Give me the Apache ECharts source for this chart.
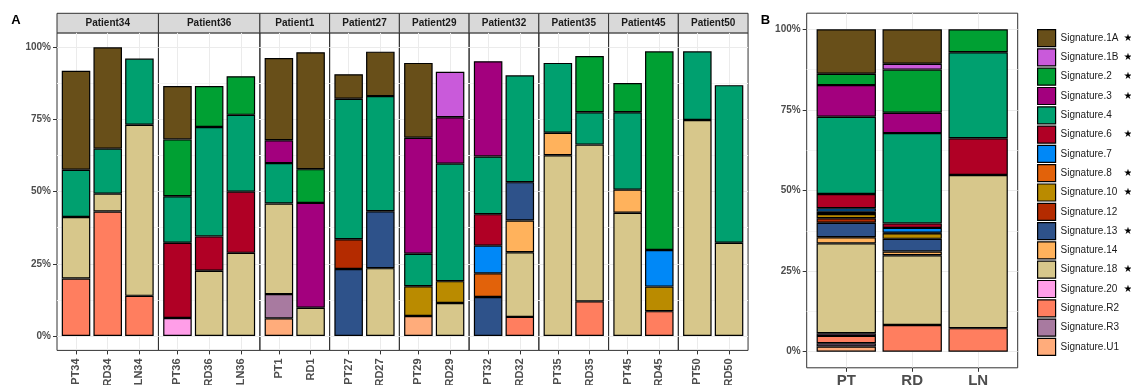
<!DOCTYPE html>
<html>
<head>
<meta charset="utf-8">
<script src="https://cdn.jsdelivr.net/npm/echarts@6/dist/echarts.min.js"></script>
<style>
  html, body { margin: 0; padding: 0; background: #fff; }
  #chart { width: 1131px; height: 385px; }
</style>
</head>
<body>
<div id="chart"></div>
<script>
// ---- data ----------------------------------------------------------------
const signatures = [
  'Signature.1A', 'Signature.1B', 'Signature.2', 'Signature.3', 'Signature.4',
  'Signature.6', 'Signature.7', 'Signature.8', 'Signature.10', 'Signature.12',
  'Signature.13', 'Signature.14', 'Signature.18', 'Signature.20', 'Signature.R2',
  'Signature.R3', 'Signature.U1'
];
const sigColors = [
  '#684F19', '#C95ADA', '#00A033', '#A3007E', '#00A06F',
  '#B00025', '#0088F7', '#E2620A', '#BA8B00', '#B42B00',
  '#2E528A', '#FFB25C', '#D7C78B', '#FF9EE8', '#FF7E5F',
  '#A87AA0', '#FFAC7B'
];
const sigStarred = [
  true, true, true, true, false,
  true, false, true, true, false,
  true, false, true, true, false,
  false, false
];

const patients = ['Patient34', 'Patient36', 'Patient1', 'Patient27', 'Patient29',
                  'Patient32', 'Patient35', 'Patient45', 'Patient50'];
const patientSampleCounts = [3, 3, 2, 2, 2, 2, 2, 2, 2];
const samplesA = ['PT34', 'RD34', 'LN34', 'PT36', 'RD36', 'LN36', 'PT1', 'RD1',
                  'PT27', 'RD27', 'PT29', 'RD29', 'PT32', 'RD32', 'PT35', 'RD35',
                  'PT45', 'RD45', 'PT50', 'RD50'];

// contribution (%) of each signature per sample, same order as samplesA
const contribA = [
  /* 1A  */ [34.3, 35.1, null, 18.5, null, null, 28.5, 40.5, 8.5, 15.4, 25.9, null, null, null, null, null, null, null, null, null],
  /* 1B  */ [null, null, null, null, null, null, null, null, null, null, null, 15.7, null, null, null, null, null, null, null, null],
  /* 2   */ [null, null, null, 19.7, 14.2, 13.4, null, 11.7, null, null, null, null, null, null, null, 19.5, 10.1, 68.8, null, null],
  /* 3   */ [null, null, null, null, null, null, 7.9, 36.3, null, null, 40.2, 16.1, 33.0, null, null, null, null, null, null, null],
  /* 4   */ [16.4, 15.6, 22.9, 16.1, 37.9, 26.6, 14.0, null, 48.7, 39.9, 11.3, 40.7, 20.0, 37.0, 24.2, 11.2, 26.8, null, 23.8, 54.6],
  /* 6   */ [null, null, null, 26.1, 11.9, 21.2, null, null, null, null, null, null, 10.9, null, null, null, null, null, null, null],
  /* 7   */ [null, null, null, null, null, null, null, null, null, null, null, null, 9.6, null, null, null, null, 12.7, null, null],
  /* 8   */ [null, null, null, null, null, null, null, null, null, null, null, null, 8.2, null, null, null, null, null, null, null],
  /* 10  */ [null, null, null, null, null, null, null, null, null, null, 10.3, 7.6, null, null, null, null, null, 8.5, null, null],
  /* 12  */ [null, null, null, null, null, null, null, null, 10.3, null, null, null, null, null, null, null, null, null, null, null],
  /* 13  */ [null, null, null, null, null, null, null, null, 23.2, 19.7, null, null, 13.5, 13.3, null, null, null, null, null, null],
  /* 14  */ [null, null, null, null, null, null, null, null, null, null, null, null, null, 11.0, 7.8, null, 8.0, null, null, null],
  /* 18  */ [21.3, 6.2, 59.3, null, 22.6, 28.8, 31.4, 9.8, null, 23.5, null, 11.4, null, 22.4, 62.6, 54.3, 42.7, null, 74.8, 32.3],
  /* 20  */ [null, null, null, 6.2, null, null, null, null, null, null, null, null, null, null, null, null, null, null, null, null],
  /* R2  */ [19.9, 43.1, 13.9, null, null, null, null, null, null, null, null, null, null, 6.6, null, 12.0, null, 8.6, null, null],
  /* R3  */ [null, null, null, null, null, null, 8.4, null, null, null, null, null, null, null, null, null, null, null, null, null],
  /* U1  */ [null, null, null, null, null, null, 6.1, null, null, null, 6.9, null, null, null, null, null, null, null, null, null]
];

const groupsB = ['PT', 'RD', 'LN'];
// pooled contribution (%) per tissue group: PT, RD, LN
const contribB = [
  /* 1A  */ [13.8, 10.7, null],
  /* 1B  */ [null, 1.8, null],
  /* 2   */ [3.5, 13.4, 7.1],
  /* 3   */ [9.8, 6.3, null],
  /* 4   */ [24.0, 28.0, 26.7],
  /* 6   */ [4.4, 1.4, 11.4],
  /* 7   */ [1.1, 1.5, null],
  /* 8   */ [0.7, 0.2, null],
  /* 10  */ [1.3, 1.7, null],
  /* 12  */ [1.4, null, null],
  /* 13  */ [4.5, 3.9, null],
  /* 14  */ [1.9, 1.2, null],
  /* 18  */ [27.9, 21.6, 47.5],
  /* 20  */ [0.8, null, null],
  /* R2  */ [2.3, 8.3, 7.3],
  /* R3  */ [1.0, null, null],
  /* U1  */ [1.6, null, null]
];

const yTicks = [0, 25, 50, 75, 100];
const yMinorTicks = [12.5, 37.5, 62.5, 87.5];

// ---- layout / styling ------------------------------------------------------
const FONT = '"Liberation Sans", Arial, Helvetica, sans-serif';
const AXIS_TEXT = '#4D4D4D';
const DARK = '#333333';
const GRID_MAJOR = '#EBEBEB';
const GRID_MINOR = '#F4F4F4';

const unitA = 31.7;          // width of one sample slot in panel A
const leftA = 57;
const topA = 32.9;
const heightA = 317.5;
const stripTop = 13.3;

const panelB = { left: 806.7, top: 13.2, width: 211, height: 354.6 };

const grids = [];
const xAxes = [];
const yAxes = [];
const series = [];
const graphics = [];

// Panel frame: bordered grid carrying the horizontal grid lines and y labels.
function addFrame(rect, showLabels) {
  const g = grids.length;
  grids.push(Object.assign({ show: true, borderColor: DARK, borderWidth: 1, outerBoundsMode: 'none' }, rect));
  xAxes.push({
    type: 'value', gridIndex: g, min: 0, max: 1,
    axisLine: { show: false, onZero: false }, axisTick: { show: false },
    axisLabel: { show: false }, splitLine: { show: false }
  });
  yAxes.push({
    type: 'value', gridIndex: g, min: -5, max: 105,
    axisLine: { show: false, onZero: false },
    axisTick: { show: showLabels, customValues: yTicks, length: 4, lineStyle: { color: DARK, width: 1 } },
    axisLabel: {
      show: showLabels, customValues: yTicks, margin: 6,
      formatter: v => v + '%',
      fontSize: 10, fontWeight: 'bold', color: AXIS_TEXT, fontFamily: FONT
    },
    splitLine: { show: true, lineStyle: { color: GRID_MAJOR, width: 1 } }
  });
  yAxes.push({
    type: 'value', gridIndex: g, min: -5, max: 105,
    axisLine: { show: false, onZero: false },
    axisTick: { show: false, customValues: yMinorTicks },
    axisLabel: { show: false },
    splitLine: { show: true, lineStyle: { color: GRID_MINOR, width: 1 } }
  });
}

// Bar grid: category slots inset by 0.1 slot on both sides of the frame.
function addBars(rect, unit, names, table, start, labelStyle) {
  const g = grids.length;
  const xi = xAxes.length;
  const yi = yAxes.length;
  grids.push({
    left: rect.left + 0.1 * unit, top: rect.top, width: names.length * unit, height: rect.height,
    outerBoundsMode: 'none'
  });
  xAxes.push({
    type: 'category', gridIndex: g, data: names, boundaryGap: true,
    axisLine: { show: false, onZero: false },
    axisTick: { show: true, alignWithLabel: true, length: 4, lineStyle: { color: DARK, width: 1 } },
    axisLabel: Object.assign({
      show: true, interval: 0, color: AXIS_TEXT, fontWeight: 'bold', fontFamily: FONT
    }, labelStyle),
    splitLine: { show: true, alignWithLabel: true, interval: 0, lineStyle: { color: GRID_MAJOR, width: 1 } }
  });
  yAxes.push({
    type: 'value', gridIndex: g, min: -5, max: 105,
    axisLine: { show: false, onZero: false }, axisTick: { show: false },
    axisLabel: { show: false }, splitLine: { show: false }
  });
  const stackId = 'stack' + g;
  for (let s = signatures.length - 1; s >= 0; s--) {
    const vals = table[s].slice(start, start + names.length);
    if (vals.every(v => v == null)) continue;
    series.push({
      type: 'bar', name: signatures[s],
      xAxisIndex: xi, yAxisIndex: yi,
      stack: stackId, barWidth: 0.9 * unit,
      data: vals,
      itemStyle: { color: sigColors[s], borderColor: '#000', borderWidth: 1.2 },
      silent: true
    });
  }
}

// panel A: one facet per patient
let xCursor = leftA;
let offset = 0;
patients.forEach((p, f) => {
  const n = patientSampleCounts[f];
  const rect = { left: xCursor, top: topA, width: (n + 0.2) * unitA, height: heightA };
  addFrame(rect, f === 0);
  addBars(rect, unitA, samplesA.slice(offset, offset + n), contribA, offset,
          { rotate: 90, margin: 8, fontSize: 11 });
  graphics.push({
    type: 'rect', shape: { x: rect.left, y: stripTop, width: rect.width, height: topA - stripTop },
    style: { fill: '#D9D9D9', stroke: DARK, lineWidth: 1 }, silent: true
  });
  graphics.push({
    type: 'text', x: rect.left + rect.width / 2, y: (stripTop + topA) / 2,
    style: { text: p, fill: '#1A1A1A', font: 'bold 10px ' + FONT, textAlign: 'center', textVerticalAlign: 'middle' },
    silent: true
  });
  xCursor += rect.width;
  offset += n;
});

// panel B
const unitB = panelB.width / (groupsB.length + 0.2);
addFrame(panelB, true);
addBars(panelB, unitB, groupsB, contribB, 0, { rotate: 0, margin: 6, fontSize: 15 });

// panel tags
graphics.push({
  type: 'text', x: 16, y: 20,
  style: { text: 'A', fill: '#000', font: 'bold 13px ' + FONT, textAlign: 'center', textVerticalAlign: 'middle' },
  silent: true
});
graphics.push({
  type: 'text', x: 765.5, y: 20,
  style: { text: 'B', fill: '#000', font: 'bold 13px ' + FONT, textAlign: 'center', textVerticalAlign: 'middle' },
  silent: true
});

const chart = echarts.init(document.getElementById('chart'), null, { renderer: 'canvas' });
chart.setOption({
  animation: false,
  backgroundColor: '#fff',
  grid: grids,
  xAxis: xAxes,
  yAxis: yAxes,
  series: series,
  graphic: graphics,
  legend: {
    orient: 'vertical', left: 1037, top: 29, padding: 0,
    data: signatures,
    icon: 'rect', itemWidth: 18, itemHeight: 17, itemGap: 1.1,
    selectedMode: false,
    itemStyle: { borderColor: '#000', borderWidth: 1.2 },
    formatter: name => {
      const i = signatures.indexOf(name);
      return sigStarred[i] ? '{n|' + name + '}{s|★}' : '{n|' + name + '}';
    },
    textStyle: {
      fontFamily: FONT, fontSize: 10, color: '#1A1A1A', lineHeight: 12,
      rich: {
        n: { width: 63, fontSize: 10, lineHeight: 12, fontFamily: FONT, color: '#1A1A1A' },
        s: { fontSize: 10, lineHeight: 12, color: '#000', fontFamily: 'DejaVu Sans' }
      }
    }
  }
});
</script>
</body>
</html>
